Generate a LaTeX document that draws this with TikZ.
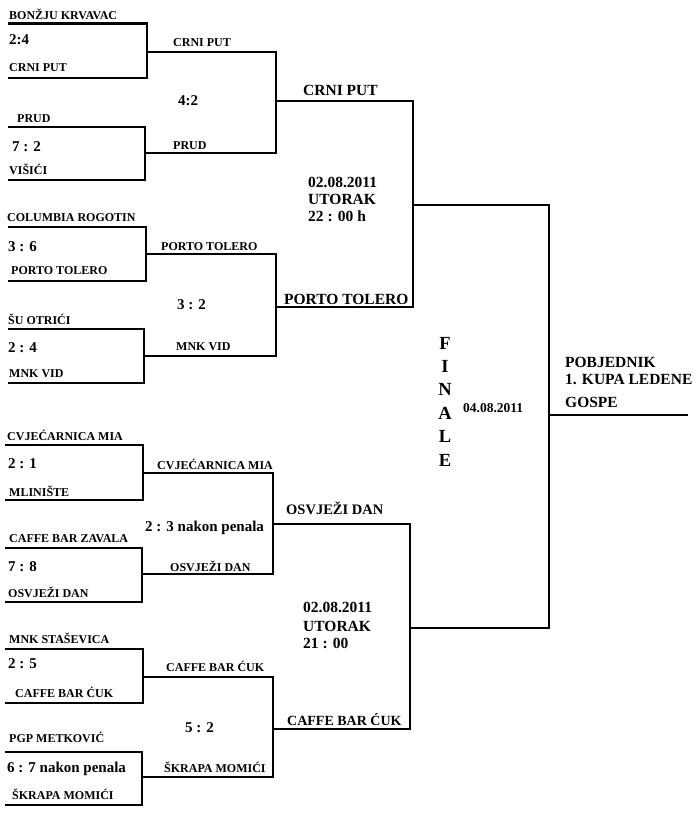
\documentclass[tikz,border=0pt]{standalone}
\usepackage{fontspec}
\setmainfont{Liberation Serif}
\tikzset{
  team/.style={anchor=base west, inner sep=0pt, font=\fontsize{12}{14}\selectfont\bfseries},
  score/.style={anchor=base west, inner sep=0pt, font=\fontsize{15}{17}\selectfont\bfseries},
  big/.style={anchor=base west, inner sep=0pt, font=\fontsize{15.5}{17}\selectfont\bfseries},
  fin/.style={anchor=base, inner sep=0pt, font=\fontsize{18.5}{20}\selectfont\bfseries},
  br/.style={line width=2.2pt},
}
\begin{document}
\begin{tikzpicture}[x=1pt,y=-1pt]
\useasboundingbox (0,0) rectangle (700,823);
% first round
\draw[br] (8,23.5) -| (147,78) -- (8,78);
\draw[br] (8,127) -| (145,180) -- (8,180);
\draw[br] (8,227) -| (146,281) -- (8,281);
\draw[br] (8,329) -| (144,383) -- (8,383);
\draw[br] (5,445) -| (143,500) -- (5,500);
\draw[br] (5,548) -| (142,602) -- (5,602);
\draw[br] (5,649) -| (143,703) -- (5,703);
\draw[br] (5,752) -| (142,805) -- (5,805);
% second round
\draw[br] (147,52) -| (276,153) -- (145,153);
\draw[br] (146,254) -| (276,356) -- (144,356);
\draw[br] (143,473) -| (273,574) -- (142,574);
\draw[br] (143,677) -| (273,777) -- (142,777);
% semifinals
\draw[br] (276,101) -| (413,307) -- (276,307);
\draw[br] (273,524) -| (410,729) -- (273,729);
% final
\draw[br] (413,205) -| (549,628) -- (410,628);
\draw[br] (549,415) -- (688,415);

\node[team] (t1) at (9,19.5) {BONŽJU KRVAVAC};
\node[score] (s1) at (9,44) {2:4};
\node[team] (t2) at (9,71) {CRNI PUT};
\node[team] (t3) at (17,122) {PRUD};
\node[score] (s2) at (12,151) {7 : 2};
\node[team] (t4) at (9,174) {VIŠIĆI};
\node[team] (t5) at (7,221) {COLUMBIA ROGOTIN};
\node[score] (s3) at (8,251) {3 : 6};
\node[team] (t6) at (11,274) {PORTO TOLERO};
\node[team] (t7) at (8,324) {ŠU OTRIĆI};
\node[score] (s4) at (8,352) {2 : 4};
\node[team] (t8) at (9,377) {MNK VID};
\node[team] (t9) at (7,440) {CVJEĆARNICA MIA};
\node[score] (s5) at (8,468) {2 : 1};
\node[team] (t10) at (9,496) {MLINIŠTE};
\node[team] (t11) at (9,542) {CAFFE BAR ZAVALA};
\node[score] (s6) at (8,571) {7 : 8};
\node[team] (t12) at (8,597) {OSVJEŽI DAN};
\node[team] (t13) at (9,643) {MNK STAŠEVICA};
\node[score] (s7) at (8,668) {2 : 5};
\node[team] (t14) at (15,697) {CAFFE BAR ĆUK};
\node[team] (t15) at (9,742) {PGP METKOVIĆ};
\node[score] (s8) at (7,772) {6 : 7 nakon penala};
\node[team] (t16) at (12,799) {ŠKRAPA MOMIĆI};

\node[team] (q1) at (173,46) {CRNI PUT};
\node[score] (r1) at (178,105) {4:2};
\node[team] (q2) at (173,149) {PRUD};
\node[team] (q3) at (161,250) {PORTO TOLERO};
\node[score] (r2) at (177,309) {3 : 2};
\node[team] (q4) at (176,350) {MNK VID};
\node[team] (q5) at (157,469) {CVJEĆARNICA MIA};
\node[score] (r3) at (145,531) {2 : 3 nakon penala};
\node[team] (q6) at (170,571) {OSVJEŽI DAN};
\node[team] (q7) at (166,671) {CAFFE BAR ĆUK};
\node[score] (r4) at (185,732) {5 : 2};
\node[team] (q8) at (164,772) {ŠKRAPA MOMIĆI};

\node[big] (p1) at (303,95) {CRNI PUT};
\node[big] (d1) at (308,187) {02.08.2011};
\node[big] (d2) at (308,204) {UTORAK};
\node[big] (d3) at (308,221) {22 : 00 h};
\node[big] (p2) at (284,304) {PORTO TOLERO};
\node[big, font=\fontsize{14.5}{17}\selectfont\bfseries] (p3) at (286,514) {OSVJEŽI DAN};
\node[big] (d4) at (303,612) {02.08.2011};
\node[big] (d5) at (303,631) {UTORAK};
\node[big] (d6) at (303,648) {21 : 00};
\node[big, font=\fontsize{14}{17}\selectfont\bfseries] (p4) at (287,725) {CAFFE BAR ĆUK};

\foreach \l [count=\i] in {F,I,N,A,L,E}
  \node[fin] (fin\i) at (445,349+23.4*\i-23.4) {\l};
\node[team, font=\fontsize{13.5}{15}\selectfont\bfseries] (fdate) at (463,412) {04.08.2011};
\node[big] (w1) at (565,367) {POBJEDNIK};
\node[big] (w2) at (565,384) {1. KUPA LEDENE};
\node[big] (w3) at (565,407) {GOSPE};
\end{tikzpicture}
\end{document}
